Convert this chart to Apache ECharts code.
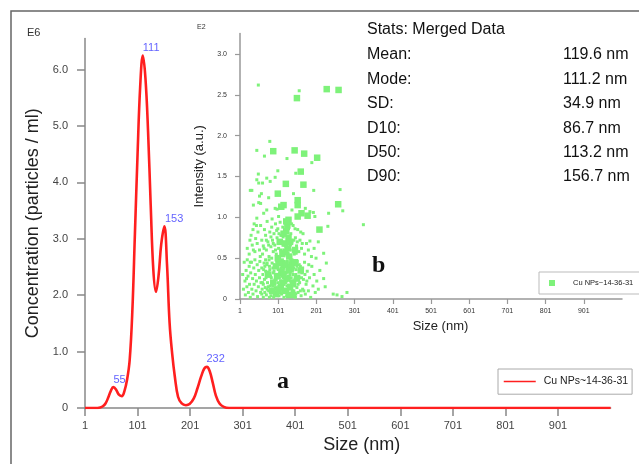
<!DOCTYPE html>
<html>
<head>
<meta charset="utf-8">
<script src="https://cdn.jsdelivr.net/npm/echarts@6/dist/echarts.min.js"></script>
<style>html,body{margin:0;padding:0;background:#fff;}#c{width:639px;height:464px;}</style>
</head>
<body>
<div id="c"></div>
<script>
// ---- main curve (size nm, concentration E6 particles/ml)
const curveSize = [1,20,30,35,40,45,50,55,60,65,71,76,81,86,91,96,101,106,111,116,121,126,131,136,141,146,152,157,162,167,172,178,185,193,200,208,215,222,228,233,238,244,250,257,265,275,400,600,800,1001];
const curveConc = [0,0,0.01,0.03,0.08,0.18,0.3,0.37,0.33,0.24,0.21,0.3,0.5,0.85,1.7,3.1,4.5,5.7,6.25,5.85,4.9,3.6,2.45,2.06,2.35,2.9,3.22,2.55,1.5,0.95,0.55,0.2,0.08,0.05,0.07,0.17,0.35,0.56,0.7,0.73,0.66,0.45,0.22,0.08,0.02,0,0,0,0,0];
const peakSize = [55,111,153,232];
const peakConc = [0.37,6.25,3.22,0.73];
const mainXTicks = [1,101,201,301,401,501,601,701,801,901];
const mainYTicks = [0,1,2,3,4,5,6];
const insetXTicks = [1,101,201,301,401,501,601,701,801,901];
const insetYTicks = [0,0.5,1.0,1.5,2.0,2.5,3.0];
const seriesName = 'Cu NPs~14-36-31';
const statLabels = ['Mean:','Mode:','SD:','D10:','D50:','D90:'];
const statValues = ['119.6 nm','111.2 nm','34.9 nm','86.7 nm','113.2 nm','156.7 nm'];

// ---- inset scatter (size nm, intensity E2 a.u.)
const scatterBig = [[228,2.57],[259,2.56],[150,2.46],[88,1.81],[144,1.82],[169,1.78],[203,1.73],[160,1.56],[121,1.41],[167,1.40],[100,1.29],[152,1.21],[152,1.15],[115,1.15],[109,1.13],[258,1.16],[152,1.01],[162,1.05],[178,1.02],[128,0.97],[209,0.85],[125,0.9],[122,0.83],[128,0.75],[118,0.68],[126,0.62],[112,0.55],[130,0.52],[105,0.45],[120,0.42],[135,0.38],[110,0.33],[98,0.28],[125,0.25],[140,0.2],[108,0.15],[118,0.1],[95,0.06],[130,0.05],[145,0.6],[100,0.5],[115,0.3],[132,0.15],[88,0.2],[160,0.35],
[105,0.7],[115,0.8],[122,0.95],[132,0.7],[138,0.45],[112,0.2],[102,0.1],[140,0.05],[120,0.58],[95,0.4],[128,0.35],[150,0.25],[85,0.1],[75,0.3],[145,0.45]];
const scatterSmall = [
[49,2.62],[156,2.55],[79,1.93],[45,1.82],[65,1.75],[124,1.72],[189,1.67],[100,1.57],[49,1.53],[147,1.54],[71,1.48],[93,1.49],[45,1.46],[60,1.42],[80,1.44],[28,1.33],[50,1.42],[52,1.26],[50,1.18],[63,1.05],[45,0.99],[76,1.24],[98,1.1],[85,0.98],[194,1.33],[172,1.11],[193,1.06],[263,1.34],[270,1.08],[233,1.05],[231,0.89],[324,0.91],[220,0.56],[227,0.44],[220,0.25],[224,0.15],[255,0.05],[268,0.03],[281,0.08],[245,0.06],[32,1.33],[57,1.29],[36,1.15],[55,1.17],[71,1.09],[93,1.11],[137,1.09],[141,1.29],[184,1.07],[197,1.01],[102,1.01],[184,0.71],[206,0.7],[35,0.85],[27,0.72],
[20,0.62],[25,0.55],[30,0.78],[33,0.66],[38,0.92],[40,0.58],[42,0.74],[46,0.68],[48,0.82],[52,0.6],[55,0.9],[58,0.72],[60,0.55],[62,0.65],[65,0.85],[68,0.78],[70,0.6],[72,0.95],[74,0.7],[77,0.52],[79,0.82],[82,0.64],[84,0.88],[86,0.72],[88,0.58],[90,0.8],[92,0.66],[94,0.92],[96,0.55],[98,0.75],[100,0.86],[102,0.62],[104,0.7],[106,0.94],[108,0.78],[110,0.58],[113,0.88],[116,0.66],[119,0.96],[122,0.55],[125,0.7],[128,0.86],[131,0.62],[134,0.8],[137,0.7],[140,0.9],[143,0.55],[146,0.75],[149,0.65],[152,0.85],[155,0.58],[158,0.72],[162,0.62],[166,0.8],[170,0.55],[175,0.68],[180,0.6],[188,0.52],[195,0.62],[200,0.5],
[8,0.3],[10,0.12],[12,0.45],[14,0.22],[15,0.05],[17,0.35],[19,0.15],[20,0.48],[22,0.28],[23,0.08],[25,0.4],[26,0.18],[28,0.02],[29,0.32],[31,0.45],[32,0.12],[34,0.25],[35,0.06],[37,0.38],[38,0.18],[40,0.48],[41,0.3],[43,0.1],[44,0.22],[46,0.42],[47,0.03],[49,0.15],[50,0.35],[52,0.26],[53,0.46],[55,0.08],[56,0.2],[58,0.38],[59,0.12],[61,0.3],[62,0.02],[64,0.44],[65,0.24],[67,0.14],[68,0.34],[70,0.05],[71,0.42],[73,0.2],[74,0.28],[76,0.1],[77,0.48],[79,0.36],[80,0.16],[82,0.04],[83,0.26],[85,0.44],[86,0.12],[88,0.32],[89,0.02],[91,0.22],[92,0.4],[94,0.14],[95,0.3],[97,0.46],[98,0.08],[100,0.2],[101,0.36],[103,0.04],[104,0.26],[106,0.42],[107,0.12],[109,0.3],[110,0.06],[112,0.48],[113,0.18],[115,0.38],[116,0.02],[118,0.24],[119,0.44],[121,0.1],[122,0.32],[124,0.16],[125,0.46],[127,0.06],[128,0.28],[130,0.4],[131,0.12],[133,0.22],[134,0.35],[136,0.04],[137,0.48],[139,0.18],[140,0.3],[142,0.1],[143,0.42],[145,0.24],[146,0.02],[148,0.36],[150,0.14],[151,0.46],[153,0.08],[155,0.28],[157,0.2],[159,0.4],[161,0.04],[163,0.32],[165,0.12],[167,0.24],[170,0.45],[172,0.06],[174,0.18],[177,0.34],[180,0.1],[183,0.26],[186,0.02],[189,0.4],[192,0.16],[195,0.3],[198,0.08],[202,0.22],[206,0.12],[210,0.35],
[62,0.18],[66,0.4],[75,0.33],[81,0.08],[87,0.38],[93,0.05],[96,0.24],[99,0.42],[102,0.15],[105,0.32],[108,0.22],[111,0.4],[114,0.08],[117,0.3],[120,0.2],[123,0.04],[126,0.36],[129,0.14],[132,0.44],[135,0.26],[138,0.1],[141,0.38],[144,0.16],[147,0.06],[90,0.12],[84,0.2],[78,0.02],[72,0.12],[68,0.48],[58,0.06],
[60,0.2],[63,0.36],[66,0.08],[69,0.26],[72,0.44],[75,0.15],[78,0.4],[81,0.28],[84,0.5],[87,0.16],[90,0.34],[93,0.24],[96,0.12],[99,0.3],[102,0.48],[105,0.08],[108,0.38],[111,0.14],[114,0.26],[117,0.46],[120,0.32],[123,0.22],[126,0.1],[129,0.42],[132,0.3],[135,0.14],[138,0.34],[141,0.22],[144,0.46],[147,0.3],[150,0.4],[153,0.18],[156,0.42],[159,0.1],[162,0.26],[165,0.38],[168,0.1],[171,0.3],[176,0.22],[181,0.42],
[64,0.62],[70,0.72],[76,0.66],[82,0.76],[88,0.68],[94,0.6],[97,0.84],[103,0.8],[107,0.6],[111,0.7],[114,0.76],[118,0.82],[121,0.64],[124,0.9],[127,0.56],[130,0.76],[133,0.66],[136,0.92],[139,0.6],[142,0.72],[145,0.86],[148,0.56],[151,0.7],[160,0.82],[164,0.68],[54,0.52],[44,0.9],[36,0.6],[28,0.45],[18,0.25]
];

const GREEN = '#7ef27a';
const RED = '#ff1f1f';
const FONT = 'Liberation Sans, Arial, sans-serif';

const chart = echarts.init(document.getElementById('c'), null, {renderer: 'canvas'});

const mainAxisLine = {show: true, lineStyle: {color: '#888', width: 1.5}};
const insetAxisLine = {show: true, lineStyle: {color: '#999', width: 1.5}};

const graphic = [
  {type: 'rect', shape: {x: 11, y: 11, width: 700, height: 600}, style: {fill: 'none', stroke: '#666', lineWidth: 1.5}, z: 0},
  {type: 'text', x: 27, y: 33, style: {text: 'E6', font: '11px ' + FONT, fill: '#333', verticalAlign: 'middle'}},
  {type: 'text', x: 197, y: 27, style: {text: 'E2', font: '7px ' + FONT, fill: '#333', verticalAlign: 'middle'}},
  {type: 'text', x: 367, y: 30, style: {text: 'Stats: Merged Data', font: '16px ' + FONT, fill: '#111', verticalAlign: 'middle'}},
  {type: 'text', x: 277, y: 382, style: {text: 'a', font: 'bold 24px "Liberation Serif", "DejaVu Serif", serif', fill: '#111', verticalAlign: 'middle'}},
  {type: 'text', x: 372, y: 266, style: {text: 'b', font: 'bold 24px "Liberation Serif", "DejaVu Serif", serif', fill: '#111', verticalAlign: 'middle'}}
];
statLabels.forEach((t, i) => {
  graphic.push({type: 'text', x: 367, y: 55 + i * 24.4, style: {text: t, font: '16px ' + FONT, fill: '#111', verticalAlign: 'middle'}});
  graphic.push({type: 'text', x: 563, y: 55 + i * 24.4, style: {text: statValues[i], font: '16px ' + FONT, fill: '#111', verticalAlign: 'middle'}});
});

const option = {
  backgroundColor: '#fff',
  animation: false,
  textStyle: {fontFamily: FONT},
  graphic: graphic,
  grid: [
    {left: 85, right: 28.4, top: 38.6, bottom: 56},
    {left: 240, right: 17, top: 33.6, bottom: 165}
  ],
  legend: [
    {
      data: [{name: 'main'}], left: 498, top: 369, padding: [7, 4, 7, 5],
      borderColor: '#aaa', borderWidth: 1, backgroundColor: '#fff',
      itemWidth: 32, itemHeight: 14, itemGap: 0,
      lineStyle: {width: 1.5},
      itemStyle: {opacity: 0},
      formatter: () => seriesName,
      textStyle: {fontSize: 10.5, color: '#222', fontFamily: FONT, padding: [0, 0, 0, 3]}
    },
    {
      data: [{name: 'inset', icon: 'rect'}], left: 539, top: 272, padding: [7, 8, 7, 10],
      borderColor: '#bbb', borderWidth: 1, backgroundColor: '#fff',
      itemWidth: 6, itemHeight: 6, itemGap: 0,
      formatter: () => seriesName,
      textStyle: {fontSize: 7.5, color: '#222', fontFamily: FONT, padding: [0, 0, 0, 13]}
    }
  ],
  xAxis: [
    {
      gridIndex: 0, type: 'value', min: 1, max: 1001,
      axisLine: mainAxisLine,
      axisTick: {show: true, length: 8, lineStyle: {color: '#888', width: 1.5}, customValues: mainXTicks},
      axisLabel: {customValues: mainXTicks, fontSize: 11, color: '#444', margin: 12, formatter: v => String(v)},
      splitLine: {show: false},
      name: 'Size (nm)', nameLocation: 'middle', nameGap: 26,
      nameTextStyle: {fontSize: 18, color: '#222', padding: [0, 0, 0, 28], verticalAlign: 'top'}
    },
    {
      gridIndex: 1, type: 'value', min: 1, max: 1001,
      axisLine: insetAxisLine,
      axisTick: {show: true, length: 5, lineStyle: {color: '#999', width: 1.2}, customValues: insetXTicks},
      axisLabel: {customValues: insetXTicks, fontSize: 7, color: '#333', margin: 9, formatter: v => String(v)},
      splitLine: {show: false},
      name: 'Size (nm)', nameLocation: 'middle', nameGap: 20,
      nameTextStyle: {fontSize: 13, color: '#222', padding: [0, 0, 0, 19], verticalAlign: 'top'}
    }
  ],
  yAxis: [
    {
      gridIndex: 0, type: 'value', min: 0, max: 6.55,
      axisLine: mainAxisLine,
      axisTick: {show: true, length: 8, lineStyle: {color: '#888', width: 1.5}, customValues: mainYTicks},
      axisLabel: {customValues: mainYTicks, fontSize: 11, color: '#444', margin: 17, formatter: v => v === 0 ? '0' : v.toFixed(1)},
      splitLine: {show: false},
      name: 'Concentration (particles / ml)', nameLocation: 'middle', nameGap: 41, nameRotate: 90,
      nameTextStyle: {fontSize: 18, color: '#222'}
    },
    {
      gridIndex: 1, type: 'value', min: 0, max: 3.25,
      axisLine: insetAxisLine,
      axisTick: {show: true, length: 5, lineStyle: {color: '#999', width: 1.2}, customValues: insetYTicks},
      axisLabel: {customValues: insetYTicks, fontSize: 7, color: '#333', margin: 13, formatter: v => v === 0 ? '0' : v.toFixed(1)},
      splitLine: {show: false},
      name: 'Intensity (a.u.)', nameLocation: 'middle', nameGap: 32, nameRotate: 90,
      nameTextStyle: {fontSize: 13, color: '#222'}
    }
  ],
  series: [
    {
      name: 'main', type: 'line', xAxisIndex: 0, yAxisIndex: 0,
      data: curveSize.map((s, i) => [s, curveConc[i]]),
      smooth: 0.4, symbol: 'none',
      lineStyle: {color: RED, width: 2.6}, itemStyle: {color: RED}, z: 3
    },
    {
      name: 'peaks', type: 'scatter', xAxisIndex: 0, yAxisIndex: 0,
      data: peakSize.map((s, i) => [s, peakConc[i]]),
      symbolSize: 0, silent: true,
      label: {show: true, position: 'top', align: 'left', distance: 2, color: '#3a3aff', fontSize: 11,
        formatter: p => String(p.value[0])}
    },
    {
      name: 'inset', type: 'scatter', xAxisIndex: 1, yAxisIndex: 1,
      data: scatterSmall, symbol: 'rect', symbolSize: 3,
      itemStyle: {color: GREEN, opacity: 1}
    },
    {
      name: 'insetBig', type: 'scatter', xAxisIndex: 1, yAxisIndex: 1,
      data: scatterBig, symbol: 'rect', symbolSize: 6.5,
      itemStyle: {color: GREEN, opacity: 1}
    }
  ]
};
chart.setOption(option);
</script>
</body>
</html>
